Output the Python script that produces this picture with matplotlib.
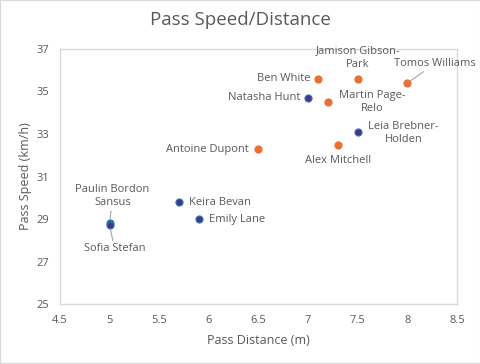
import matplotlib
matplotlib.use("Agg")
import matplotlib.pyplot as plt
from matplotlib.patches import Rectangle

names = ["Ben White", "Jamison Gibson-\nPark", "Tomos Williams", "Natasha Hunt",
         "Martin Page-\nRelo", "Leia Brebner-\nHolden", "Alex Mitchell", "Antoine Dupont",
         "Keira Bevan", "Emily Lane", "Paulin Bordon\nSansus", "Sofia Stefan"]
pass_distance = [7.1, 7.5, 8.0, 7.0, 7.2, 7.5, 7.3, 6.5, 5.7, 5.9, 5.0, 5.0]
pass_speed = [35.6, 35.6, 35.4, 34.7, 34.5, 33.1, 32.5, 32.3, 29.8, 29.0, 28.8, 28.7]
group = ["m", "m", "m", "w", "m", "w", "m", "m", "w", "w", "w", "w"]

x_ticks = [4.5, 5, 5.5, 6, 6.5, 7, 7.5, 8, 8.5]
x_tick_labels = ["4.5", "5", "5.5", "6", "6.5", "7", "7.5", "8", "8.5"]
y_ticks = [25, 27, 29, 31, 33, 35, 37]

# label layout: (dx, dy in pixels, ha, va, leader line)
label_layout = {
    "Ben White": (-8, 0, "right", "center", False),
    "Jamison Gibson-\nPark": (0, 9, "center", "bottom", False),
    "Tomos Williams": (28, 14, "center", "bottom", True),
    "Natasha Hunt": (-8, 0, "right", "center", False),
    "Martin Page-\nRelo": (44, 0, "center", "center", False),
    "Leia Brebner-\nHolden": (46, -1, "center", "center", False),
    "Alex Mitchell": (0, -10, "center", "top", False),
    "Antoine Dupont": (-10, -1, "right", "center", False),
    "Keira Bevan": (10, 0, "left", "center", False),
    "Emily Lane": (10, 0, "left", "center", False),
    "Paulin Bordon\nSansus": (3, 15, "center", "bottom", True),
    "Sofia Stefan": (5, -18, "center", "top", True),
}

plt.rcParams["font.family"] = ["Open Sans", "DejaVu Sans"]
text_color = "#595959"

fig = plt.figure(figsize=(4.81, 3.64), dpi=100)
ax = fig.add_axes([0.1247, 0.1648, 0.8253, 0.7006])

colors = {"m": "#E97132", "w": "#47328F"}
edges = {"m": "#E97132", "w": "#2C7FA8"}
for xi, yi, g in zip(pass_distance, pass_speed, group):
    ax.scatter([xi], [yi], s=26, c=colors[g], edgecolors=edges[g], linewidths=0.8, zorder=3)

for n, xi, yi in zip(names, pass_distance, pass_speed):
    dx, dy, ha, va, leader = label_layout[n]
    arrow = dict(arrowstyle="-", color="#A6A6A6", lw=0.8, shrinkA=0, shrinkB=3) if leader else None
    ax.annotate(n, (xi, yi), xytext=(dx, dy), textcoords="offset pixels",
                ha=ha, va=va, fontsize=8, color=text_color, linespacing=1.3,
                arrowprops=arrow, multialignment="center")

ax.set_xlim(4.5, 8.5)
ax.set_ylim(25, 37)
ax.set_xticks(x_ticks)
ax.set_xticklabels(x_tick_labels)
ax.set_yticks(y_ticks)
ax.tick_params(length=0, labelsize=8, labelcolor=text_color, pad=8)
for s in ax.spines.values():
    s.set_color("#D9D9D9")
    s.set_linewidth(1)

ax.set_xlabel("Pass Distance (m)", fontsize=9, color=text_color, labelpad=6)
ax.set_ylabel("Pass Speed (km/h)", fontsize=9, color=text_color, labelpad=3)
fig.text(0.5, 0.945, "Pass Speed/Distance", ha="center", va="center", fontsize=13.5, color=text_color)

fig.patches.append(Rectangle((0, 0), 1, 1, transform=fig.transFigure, fill=False,
                             edgecolor="#D9D9D9", lw=1.5))

fig.savefig("out.png", dpi=100)
